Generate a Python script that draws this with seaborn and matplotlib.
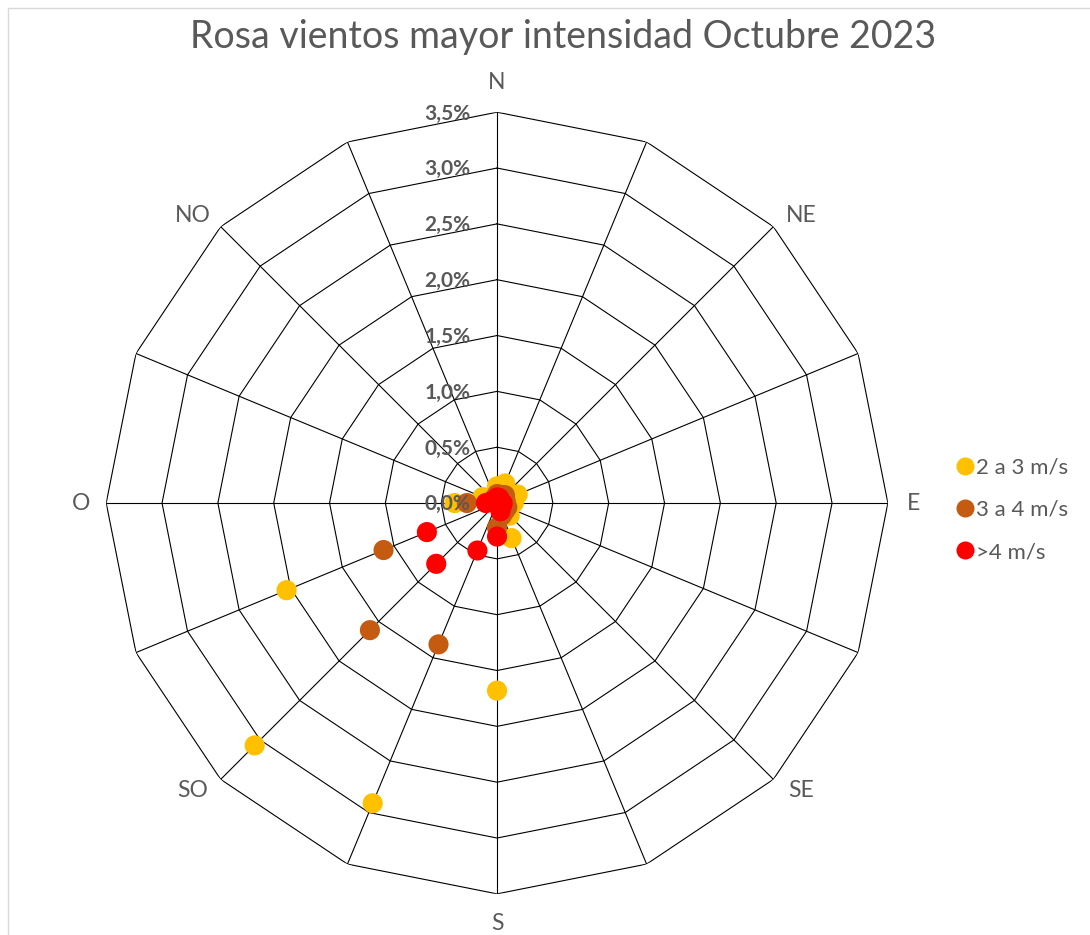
import numpy as np
import pandas as pd
import matplotlib
matplotlib.use("Agg")
import matplotlib.pyplot as plt
import seaborn as sns
from matplotlib.patches import Rectangle
from matplotlib.lines import Line2D

# Data (% of time per direction)
directions = ["N", "NNE", "NE", "ENE", "E", "ESE", "SE", "SSE",
              "S", "SSO", "SO", "OSO", "O", "ONO", "NO", "NNO"]
shown_labels = ["N", "", "NE", "", "E", "", "SE", "",
                "S", "", "SO", "", "O", "", "NO", ""]
v_2_3 = [0.15, 0.19, 0.12, 0.20, 0.15, 0.12, 0.16, 0.34,
         1.68, 2.91, 3.07, 2.04, 0.38, 0.14, 0.05, 0.08]
v_3_4 = [0.08, 0.08, 0.10, 0.08, 0.08, 0.10, 0.10, 0.12,
         0.22, 1.37, 1.61, 1.10, 0.27, 0.05, 0.03, 0.05]
v_4 = [0.05, 0.05, 0.03, 0.03, 0.05, 0.05, 0.05, 0.08,
       0.30, 0.46, 0.77, 0.68, 0.10, 0.05, 0.03, 0.03]
series_names = ["2 a 3 m/s", "3 a 4 m/s", ">4 m/s"]
colors = ["#FFC000", "#C55A11", "#FF0000"]
r_ticks = [0.0, 0.5, 1.0, 1.5, 2.0, 2.5, 3.0, 3.5]

GREY = "#595959"
sns.set_style("white")
plt.rcParams["font.family"] = ["Lato", "DejaVu Sans"]

theta = np.deg2rad(np.arange(len(directions)) * 360 / len(directions))

df = pd.DataFrame({
    "theta": np.tile(theta, 3),
    "r": v_2_3 + v_3_4 + v_4,
    "serie": np.repeat(series_names, len(directions)),
})

fig = plt.figure(figsize=(10.9, 9.35), dpi=100)
ax = fig.add_axes([0.0973, 0.044, 0.7174, 0.836], projection="polar")
ax.set_theta_zero_location("N")
ax.set_theta_direction(-1)
rmax = r_ticks[-1]
ax.set_ylim(0, rmax)
ax.grid(False)
ax.spines["polar"].set_visible(False)
ax.set_xticks([])
ax.set_yticks([])

# polygon grid + spokes
closed = np.append(theta, theta[0])
for rv in r_ticks[1:]:
    ax.plot(closed, [rv] * len(closed), color="black", lw=0.8, zorder=1)
for t in theta:
    ax.plot([t, t], [0, rmax], color="black", lw=0.8, zorder=1)

sns.scatterplot(data=df, x="theta", y="r", hue="serie", palette=colors,
                s=210, linewidth=0, ax=ax, legend=False, zorder=3, clip_on=False)
ax.set_xlabel("")
ax.set_ylabel("")

# radial labels
for rv in r_ticks:
    ax.annotate(f"{rv:.1f}%".replace(".", ","), xy=(0, rv), xytext=(-19, -1),
                textcoords="offset points", ha="right", va="center",
                fontsize=15, fontweight="bold", color=GREY, zorder=5,
                annotation_clip=False)

# direction labels
for t, lab in zip(theta, shown_labels):
    if lab:
        sx, cy = np.round(np.sin(t), 6), np.round(np.cos(t), 6)
        diag = abs(sx) > 0.1 and abs(cy) > 0.1
        off = (np.sign(sx) * 5, -np.sign(cy) * 7) if diag else (-np.sign(sx) * 3, 0)
        ax.annotate(lab, xy=(t, rmax * 1.075), xytext=off,
                    textcoords="offset points", ha="center", va="center",
                    fontsize=16.5, color=GREY, annotation_clip=False)

handles = [Line2D([], [], marker="o", linestyle="", markersize=13,
                  markerfacecolor=c, markeredgewidth=0) for c in colors]
fig.legend(handles, series_names, loc="center left",
           bbox_to_anchor=(935 / 1090, 1 - 510 / 935), frameon=False,
           fontsize=16, labelcolor=GREY, handletextpad=0.05,
           labelspacing=1.0, handlelength=0.9)

fig.text(563 / 1090, 1 - 37 / 935, "Rosa vientos mayor intensidad Octubre 2023",
         ha="center", va="center", fontsize=27, color=GREY)

fig.patches.append(Rectangle((8 / 1090, -0.1), 1.2, 1.1 - 8 / 935 + 0.0,
                             transform=fig.transFigure, fill=False,
                             edgecolor="#d9d9d9", lw=1))

fig.savefig("out.png", dpi=100)
